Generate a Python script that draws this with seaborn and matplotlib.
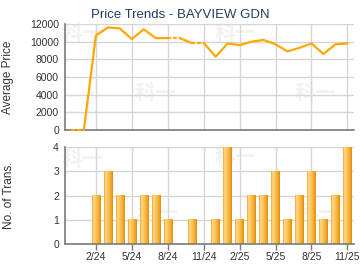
import numpy as np
import pandas as pd
import matplotlib
matplotlib.use("Agg")
import matplotlib.pyplot as plt
from matplotlib.colors import LinearSegmentedColormap
import seaborn as sns

# ---- data ----
months = ["12/23", "1/24", "2/24", "3/24", "4/24", "5/24", "6/24", "7/24", "8/24",
          "9/24", "10/24", "11/24", "12/24", "1/25", "2/25", "3/25", "4/25", "5/25",
          "6/25", "7/25", "8/25", "9/25", "10/25", "11/25"]
avg_price = [0, 0, 10700, 11600, 11500, 10300, 11400, 10400, 10400,
             10400, 9850, 9850, 8300, 9800, 9600, 10000, 10200, 9700,
             8900, 9300, 9800, 8600, 9700, 9800]
num_trans = [0, 0, 2, 3, 2, 1, 2, 2, 1,
             0, 1, 0, 1, 4, 1, 2, 2, 3,
             1, 2, 3, 1, 2, 4]
tick_labels = ["2/24", "5/24", "8/24", "11/24", "2/25", "5/25", "8/25", "11/25"]
price_ticks = [0, 2000, 4000, 6000, 8000, 10000, 12000]
trans_ticks = [0, 1, 2, 3, 4]
title = "Price Trends - BAYVIEW GDN"
watermark = "科一"

# ---- style ----
sns.set_theme(style="white")
plt.rcParams["font.family"] = ["Liberation Sans", "DejaVu Sans"]

idx = np.arange(len(months)) - 2  # 2/24 -> 0
df = pd.DataFrame({"m": idx, "label": months, "price": avg_price, "trans": num_trans})
tick_pos = [int(df.loc[df.label == t, "m"].iloc[0]) for t in tick_labels]

W, H = 360, 270
fig = plt.figure(figsize=(W / 100, H / 100), dpi=100)
L, R = 64.5, 354.0
ax1 = fig.add_axes([L / W, 1 - 130 / H, (R - L) / W, (130 - 24) / H])
ax2 = fig.add_axes([L / W, 1 - 243.7 / H, (R - L) / W, (243.7 - 147.3) / H])

xlim = (-2.62, 21.55)
grid_c = "#d6d6d6"
spine_c = "#7a7a7a"
txt_c = "#333333"
line_c = "#FFA800"

def add_watermarks(pts):
    for (xp, yp) in pts:
        fig.text(xp / W, 1 - yp / H, watermark, family="Noto Sans CJK SC",
                 fontsize=15, fontweight="bold", color="#f2f2f2",
                 ha="center", va="center", zorder=-1)

def style_axes(ax):
    for s in ["top", "right"]:
        ax.spines[s].set_visible(False)
    for s in ["left", "bottom"]:
        ax.spines[s].set_color(spine_c)
        ax.spines[s].set_linewidth(1.2)
    ax.set_xlim(*xlim)
    ax.set_xticks(tick_pos)
    ax.grid(True, color=grid_c, linewidth=1)
    ax.set_axisbelow(True)
    ax.tick_params(axis="y", length=0, pad=4, labelsize=7.5, labelcolor=txt_c)
    ax.set_facecolor("none")

# ---- top: price line ----
n = len(df)
runs = []
cur_style = None
cur = []
for i in range(1, n):
    st = "dot" if df.trans[i] == 0 else "solid"
    if st != cur_style:
        if cur:
            runs.append((cur_style, cur))
        cur = [i - 1, i]
        cur_style = st
    else:
        cur.append(i)
runs.append((cur_style, cur))

for st, ids in runs:
    seg = df.iloc[ids]
    kw = dict(data=seg, x="m", y="price", ax=ax1, color=line_c, linewidth=1.6,
              estimator=None, sort=False, zorder=3, clip_on=False)
    if st == "solid":
        sns.lineplot(**kw)
    else:
        sns.lineplot(**kw, linestyle=(0, (1, 1.6)), dash_capstyle="round")

style_axes(ax1)
ax1.set_ylim(0, 12000)
ax1.set_yticks(price_ticks)
ax1.set_xticklabels([])
ax1.tick_params(axis="x", length=0)
ax1.set_xlabel("")
ax1.set_ylabel("Average Price", fontsize=8.5, color=txt_c)
ax1.yaxis.set_label_coords(-0.174, 0.5)

# ---- bottom: transactions bars ----
sns.barplot(data=df, x="m", y="trans", ax=ax2, native_scale=True, width=0.7,
            color="#F7B63E", linewidth=0, zorder=2)
cmap = LinearSegmentedColormap.from_list(
    "bar", [(0.0, "#EFA530"), (0.18, "#FFDA8C"), (0.45, "#FCC558"),
            (0.8, "#F2A626"), (1.0, "#DC8E16")])
grad = np.linspace(0, 1, 64).reshape(1, -1)
for p in list(ax2.patches):
    h = p.get_height()
    if h <= 0:
        continue
    x0 = p.get_x()
    ax2.imshow(grad, extent=[x0, x0 + p.get_width(), 0, h], cmap=cmap,
               aspect="auto", zorder=2.5, interpolation="bilinear")
style_axes(ax2)
ax2.set_ylim(0, 4)
ax2.set_yticks(trans_ticks)
ax2.set_xticklabels(tick_labels)
ax2.tick_params(axis="x", length=4, width=1, color=spine_c, pad=2,
                labelsize=7.5, labelcolor=txt_c, bottom=True)
ax2.set_xlabel("")
ax2.set_ylabel("No. of Trans.", fontsize=8.5, color=txt_c)
ax2.yaxis.set_label_coords(-0.171, 0.5)

# watermarks (behind everything)
add_watermarks([(82, 34), (235, 33), (155, 93), (315, 93)])
add_watermarks([(82, 160), (235, 158), (157, 213), (318, 213)])

fig.text(0.5, 1 - 14.5 / H, title, ha="center", va="center",
         fontsize=9.5, color="#1F3F66")

fig.savefig("out.png", dpi=100)
